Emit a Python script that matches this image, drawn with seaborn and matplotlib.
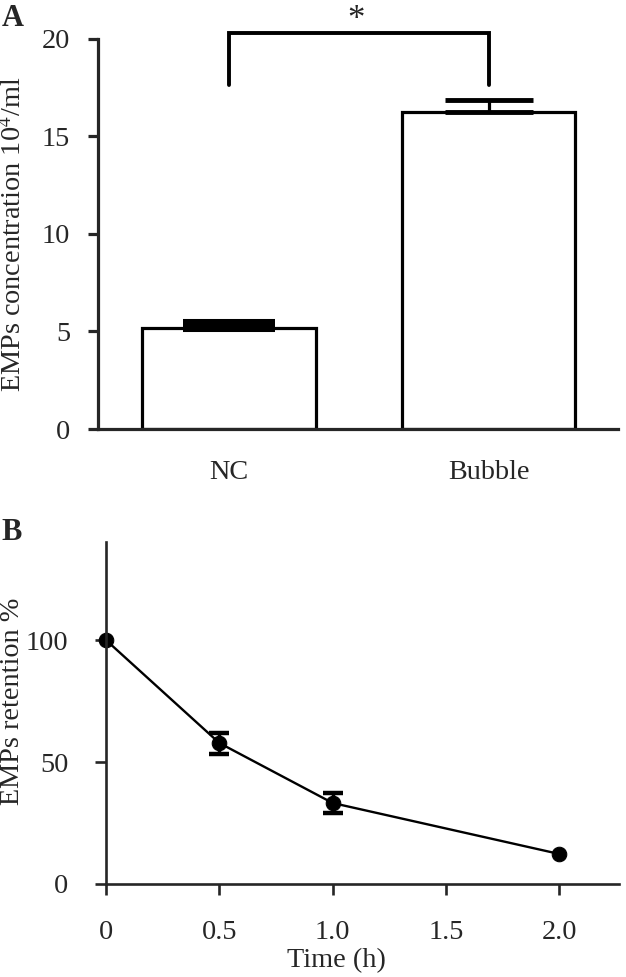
import numpy as np
import seaborn as sns
import matplotlib.pyplot as plt

# panel A: EMPs concentration (10^4/ml)
groups = ["NC", "Bubble"]
conc_mean = [5.18, 16.26]
conc_err = [0.26, 0.61]

# panel B: EMPs retention over time
times = [0.0, 0.5, 1.0, 2.0]
retention = [100.0, 57.8, 33.2, 12.3]
retention_err = [0.0, 4.3, 4.1, 0.0]

x_ticks = [0, 0.5, 1.0, 1.5, 2.0]
x_ticklabels = ["0", "0.5", "1.0", "1.5", "2.0"]

sns.set_style("ticks")
plt.rcParams['font.family'] = ['Liberation Serif', 'DejaVu Serif']
plt.rcParams['mathtext.fontset'] = 'stix'

FS = 20.3

fig = plt.figure(figsize=(6.26, 9.77), dpi=100)

# ---- panel A ----
ax = fig.add_axes([0.1565, 0.5609, 0.8307, 0.3992])
sns.barplot(x=groups, y=conc_mean, width=0.667, color='white', edgecolor='black',
            linewidth=2.3, saturation=1, ax=ax)
# upward-only error bars, NC cap drawn heavy like the original
ax.errorbar([0], [conc_mean[0]], yerr=[[0], [conc_err[0]]], fmt='none', ecolor='black',
            elinewidth=2.3, capsize=33, capthick=5.8)
ax.errorbar([1], [conc_mean[1]], yerr=[[0], [conc_err[1]]], fmt='none', ecolor='black',
            elinewidth=2.3, capsize=32, capthick=3.5)

# significance bracket
ax.plot([0, 0, 1, 1], [17.64, 20.3, 20.3, 17.64], color='black', lw=2.8,
        clip_on=False, solid_capstyle='round', solid_joinstyle='miter')
ax.text(0.49, 20.95, "*", ha='center', va='center', fontsize=25, clip_on=False)

ax.set_xlim(-0.505, 1.499)
ax.set_ylim(0, 20)
ax.set_yticks([0, 5, 10, 15, 20])
sns.despine(ax=ax)
for s in ['left', 'bottom']:
    ax.spines[s].set_linewidth(2.3)
ax.tick_params(axis='y', length=7, width=2.3, labelsize=FS, pad=13)
ax.tick_params(axis='x', length=0, labelsize=FS, pad=22)
ax.set_xlabel("")
ax.set_ylabel("EMPs concentration 10$^4$/ml", fontsize=FS)
ax.yaxis.label.set_va('center')
ax.yaxis.set_label_coords(-0.163, 0.5)

# ---- panel B ----
ax2 = fig.add_axes([0.1693, 0.0952, 0.8195, 0.35])
sns.lineplot(x=times, y=retention, color='black', linewidth=1.7, marker='o',
             markersize=10.5, markeredgecolor='black', ax=ax2, clip_on=False)
has_err = [i for i, e in enumerate(retention_err) if e > 0]
ax2.errorbar([times[i] for i in has_err], [retention[i] for i in has_err],
             yerr=[retention_err[i] for i in has_err], fmt='none', ecolor='black',
             elinewidth=2.5, capsize=7.5, capthick=3.2)

ax2.set_xlim(0, 2.263)
ax2.set_ylim(0, 140.2)
ax2.set_xticks(x_ticks)
ax2.set_xticklabels(x_ticklabels)
ax2.set_yticks([0, 50, 100])
sns.despine(ax=ax2)
for s in ['left', 'bottom']:
    ax2.spines[s].set_linewidth(1.9)
ax2.tick_params(axis='both', length=8, width=1.9, labelsize=FS)
ax2.tick_params(axis='y', pad=19)
ax2.tick_params(axis='x', pad=18)
ax2.set_xlabel("Time (h)", fontsize=FS)
ax2.xaxis.label.set_va('center')
ax2.xaxis.set_label_coords(0.45, -0.225)
ax2.set_ylabel("EMPs retention %", fontsize=FS)
ax2.yaxis.label.set_va('center')
ax2.yaxis.set_label_coords(-0.183, 0.535)

# panel letters
fig.text(13 / 626, 1 - 18 / 977, "A", fontsize=22, fontweight='bold', ha='center', va='center')
fig.text(12 / 626, 1 - 532 / 977, "B", fontsize=22, fontweight='bold', ha='center', va='center')

fig.savefig("out.png", dpi=100)
